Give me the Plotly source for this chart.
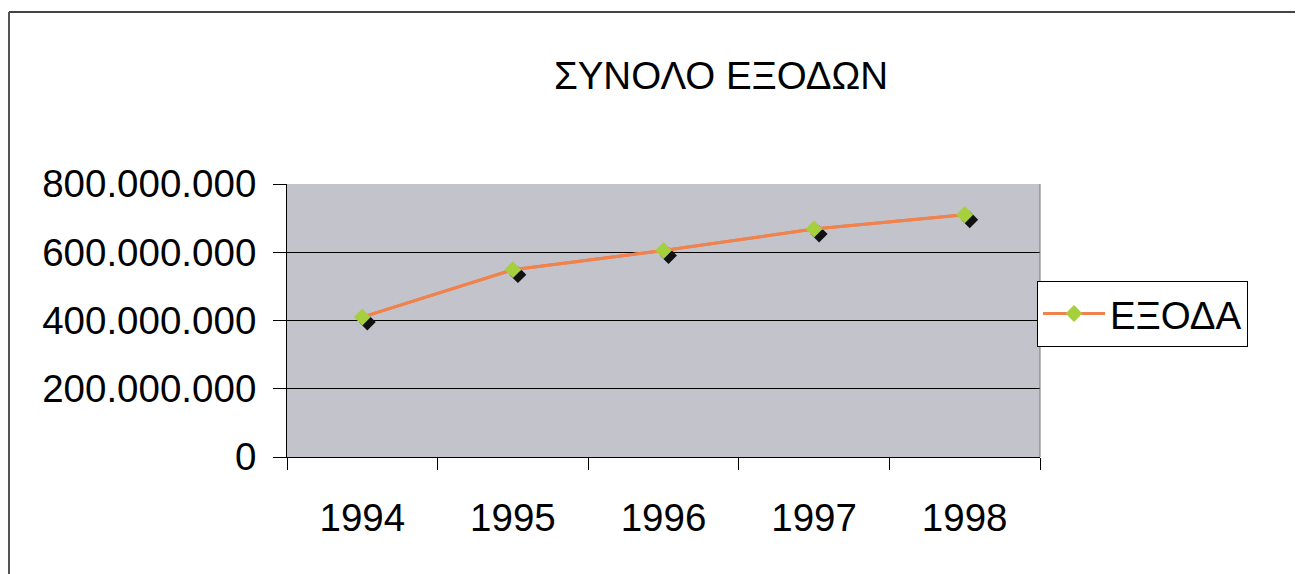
import plotly.graph_objects as go

years = ["1994", "1995", "1996", "1997", "1998"]
expenses = [410_000_000, 549_000_000, 605_000_000, 668_000_000, 710_000_000]
y_ticks = [0, 200_000_000, 400_000_000, 600_000_000, 800_000_000]
title_text = "ΣΥΝΟΛΟ ΕΞΟΔΩΝ"
series_name = "ΕΞΟΔΑ"

OFF = 8  # default body margin of the html page
W, H = 1303 - OFF, 574 - OFF
L, T = 287 - OFF, 184 - OFF
pw, ph = 753, 273
R = W - L - pw
B = H - T - ph

# shadow offset in pixels -> shift the overlay axes' ranges
dx_px, dy_px = 5, 5
cat_px = pw / 5.0
dx = dx_px / cat_px
dy = dy_px / ph * 800_000_000

font = "Liberation Sans, Arial, sans-serif"
FS = 38.5

fig = go.Figure()

# plain line on the base axes (provides the category scale)
fig.add_trace(go.Scatter(
    x=years, y=expenses, mode="lines", line=dict(color="#f0824e", width=3),
    showlegend=False, hoverinfo="skip"))

# black shadow markers on an overlay axis slightly shifted
fig.add_trace(go.Scatter(
    x=years, y=expenses, xaxis="x2", yaxis="y2", mode="markers",
    marker=dict(symbol="diamond", size=13, color="#111111"),
    showlegend=False, hoverinfo="skip"))

# main series on top
fig.add_trace(go.Scatter(
    x=years, y=expenses, xaxis="x3", yaxis="y3", mode="lines+markers", name=series_name,
    line=dict(color="#f0824e", width=3),
    marker=dict(symbol="diamond", size=13, color="#a6cf3e")))

fig.update_layout(
    width=W, height=H, autosize=False,
    margin=dict(l=L, r=R, t=T, b=B),
    paper_bgcolor="white", plot_bgcolor="#c3c3cb",
    separators=",.",
    font=dict(family=font, size=FS, color="black"),
    title=dict(text=title_text, x=(721 - OFF) / W, xref="container", xanchor="center",
               y=1 - (76 - OFF) / H, yref="container", yanchor="middle",
               font=dict(size=FS, family=font, color="black")),
    xaxis=dict(type="category", range=[-0.5, 4.5], tickson="boundaries",
               categoryorder="array", categoryarray=years,
               ticks="outside", ticklen=12, tickcolor="black", tickwidth=1,
               showline=True, linecolor="black", linewidth=1,
               showgrid=False, ticklabelstandoff=27,
               tickfont=dict(size=FS, family=font)),
    yaxis=dict(range=[0, 800_000_000], tickvals=y_ticks, tickformat=",d",
               ticks="outside", ticklen=13, tickcolor="black", tickwidth=1,
               showline=True, linecolor="black", linewidth=1,
               showgrid=True, gridcolor="black", gridwidth=1,
               zeroline=False, ticklabelstandoff=9,
               tickfont=dict(size=FS, family=font)),
    xaxis2=dict(type="category", overlaying="x", range=[-0.5 - dx, 4.5 - dx],
                visible=False, categoryorder="array", categoryarray=years),
    yaxis2=dict(overlaying="y", range=[dy, 800_000_000 + dy], visible=False),
    xaxis3=dict(type="category", overlaying="x", range=[-0.5, 4.5],
                visible=False, categoryorder="array", categoryarray=years),
    yaxis3=dict(overlaying="y", range=[0, 800_000_000], visible=False),
    legend=dict(x=(1037 - 287) / pw, y=(457 - 281) / ph,
                xanchor="left", yanchor="top",
                bordercolor="black", borderwidth=1, bgcolor="white",
                font=dict(size=FS, family=font), itemwidth=62,
                tracegroupgap=0),
    shapes=[
        dict(type="line", xref="paper", yref="paper",
             x0=1, x1=1, y0=0, y1=1, line=dict(color="#777777", width=1)),
        dict(type="line", xref="paper", yref="paper",
             x0=(9 - 287) / pw, x1=(1303 - 287) / pw,
             y0=(457 - 12) / ph, y1=(457 - 12) / ph,
             line=dict(color="#444444", width=2)),
        dict(type="line", xref="paper", yref="paper",
             x0=(9 - 287) / pw, x1=(9 - 287) / pw,
             y0=(457 - 12) / ph, y1=(457 - 580) / ph,
             line=dict(color="#555555", width=2)),
    ],
)

fig.write_html("out.html")
